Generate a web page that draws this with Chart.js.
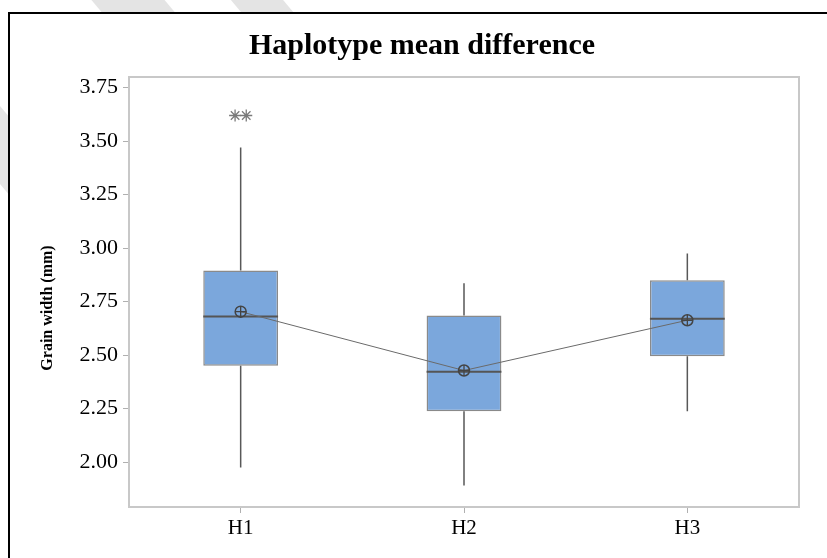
<!DOCTYPE html>
<html>
<head>
<meta charset="utf-8">
<script src="https://cdn.jsdelivr.net/npm/chart.js@4.4.1/dist/chart.umd.min.js"></script>
<style>
  html, body { margin: 0; padding: 0; background: #ffffff; width: 827px; height: 558px; overflow: hidden; position: relative; }
  .stripe { position: absolute; background: #e4e4e4; height: 320px; transform: rotate(-40deg); }
  #frame { position: absolute; left: 8px; top: 12px; width: 819px; height: 546px; background: #fff;
           border-top: 2px solid #000; border-left: 2px solid #000; }
  #frame canvas { display: block; }
</style>
</head>
<body>
<div class="stripe" style="left:100px; top:-160px; width:56px;"></div>
<div class="stripe" style="left:237px; top:-160px; width:40px;"></div>
<div class="stripe" style="left:-25px; top:-15px; width:50px;"></div>
<div id="frame"><canvas id="c" width="817" height="544"></canvas></div>
<script>
// ---- data ----
const categories   = ['H1', 'H2', 'H3'];
const q1Values     = [2.450, 2.238, 2.495];
const q3Values     = [2.895, 2.685, 2.850];
const medianValues = [2.680, 2.422, 2.670];
const whiskerLow   = [1.975, 1.890, 2.238];
const whiskerHigh  = [3.470, 2.836, 2.975];
const meanValues   = [2.703, 2.428, 2.663];
const outlierX     = [-0.025, 0.025];   // jittered category index (H1)
const outlierY     = [3.620, 3.620];
const yTickValues  = [2.00, 2.25, 2.50, 2.75, 3.00, 3.25, 3.50, 3.75];

const boxPlugin = {
  id: 'boxParts',
  afterDatasetDraw(chart, args) {
    if (args.index !== 0) return;
    const ctx = chart.ctx, y = chart.scales.y;
    const meta = chart.getDatasetMeta(0);
    ctx.save();
    meta.data.forEach((bar, i) => {
      const x = bar.x, half = bar.width / 2;
      ctx.strokeStyle = '#585858';
      ctx.lineWidth = 1.5;
      ctx.beginPath();
      ctx.moveTo(x, y.getPixelForValue(whiskerHigh[i]));
      ctx.lineTo(x, y.getPixelForValue(q3Values[i]));
      ctx.moveTo(x, y.getPixelForValue(q1Values[i]));
      ctx.lineTo(x, y.getPixelForValue(whiskerLow[i]));
      ctx.stroke();
      ctx.lineWidth = 2;
      ctx.strokeStyle = '#555';
      const my = y.getPixelForValue(medianValues[i]);
      ctx.beginPath();
      ctx.moveTo(x - half, my);
      ctx.lineTo(x + half, my);
      ctx.stroke();
    });
    ctx.restore();
  },
  afterDraw(chart) {
    const {left, right, top, bottom} = chart.chartArea;
    const ctx = chart.ctx;
    ctx.save();
    ctx.strokeStyle = '#c8c8c8';
    ctx.lineWidth = 2;
    ctx.strokeRect(left, top, right - left, bottom - top);
    ctx.restore();
  }
};

const serif = "'Liberation Serif', 'Times New Roman', serif";

new Chart(document.getElementById('c'), {
  type: 'bar',
  data: {
    labels: categories,
    datasets: [
      {
        type: 'bar',
        data: categories.map((_, i) => [q1Values[i], q3Values[i]]),
        backgroundColor: '#7ba7dc',
        borderColor: '#8a8a8a',
        borderWidth: 1.5,
        borderSkipped: false,
        grouped: false,
        barPercentage: 0.335,
        categoryPercentage: 1,
        order: 3
      },
      {
        type: 'line',
        data: meanValues,
        borderColor: '#6a6a6a',
        borderWidth: 1,
        pointStyle: 'circle',
        pointRadius: 5.5,
        pointBorderWidth: 1.5,
        pointBorderColor: '#444',
        pointBackgroundColor: 'rgba(0,0,0,0)',
        fill: false,
        order: 1
      },
      {
        type: 'line',
        data: meanValues,
        showLine: false,
        pointStyle: 'cross',
        pointRadius: 5.5,
        pointBorderWidth: 1.3,
        pointBorderColor: '#444',
        order: 0
      },
      {
        type: 'scatter',
        xAxisID: 'xOut',
        data: outlierX.map((v, i) => ({x: v, y: outlierY[i]})),
        pointStyle: 'star',
        pointRadius: 6,
        pointBorderWidth: 1.3,
        pointBorderColor: '#7a7a7a',
        order: 0
      }
    ]
  },
  options: {
    responsive: false,
    devicePixelRatio: 1,
    animation: false,
    layout: { padding: { left: 35, right: 28, top: 0, bottom: 0 } },
    plugins: {
      legend: { display: false },
      tooltip: { enabled: false },
      title: {
        display: true,
        text: 'Haplotype mean difference',
        color: '#000',
        font: { family: serif, size: 30, weight: 'bold' },
        padding: { top: 14, bottom: 13 }
      }
    },
    scales: {
      x: {
        type: 'category',
        offset: true,
        grid: { offset: false, drawOnChartArea: false, drawTicks: true, tickLength: 6, color: '#b0b0b0' },
        border: { display: false },
        ticks: { color: '#000', font: { family: serif, size: 21 }, padding: 3 },
        afterFit: s => { s.height = 51; }
      },
      xOut: {
        type: 'linear',
        display: false,
        offset: false,
        grid: { offset: false },
        min: -0.5,
        max: 2.5
      },
      y: {
        min: 1.79,
        max: 3.8,
        afterBuildTicks: s => { s.ticks = yTickValues.map(v => ({value: v})); },
        grid: { drawOnChartArea: false, drawTicks: true, tickLength: 6, color: '#b0b0b0' },
        border: { display: false },
        ticks: { color: '#000', font: { family: serif, size: 22 }, padding: 5,
                 callback: v => Number(v).toFixed(2) },
        title: {
          display: true,
          text: 'Grain width (mm)        ',
          color: '#000',
          font: { family: serif, size: 16, weight: 'bold' },
          padding: { top: -7, bottom: 0 }
        },
        afterFit: s => { s.width = 84; }
      }
    }
  },
  plugins: [boxPlugin]
});
</script>
</body>
</html>
